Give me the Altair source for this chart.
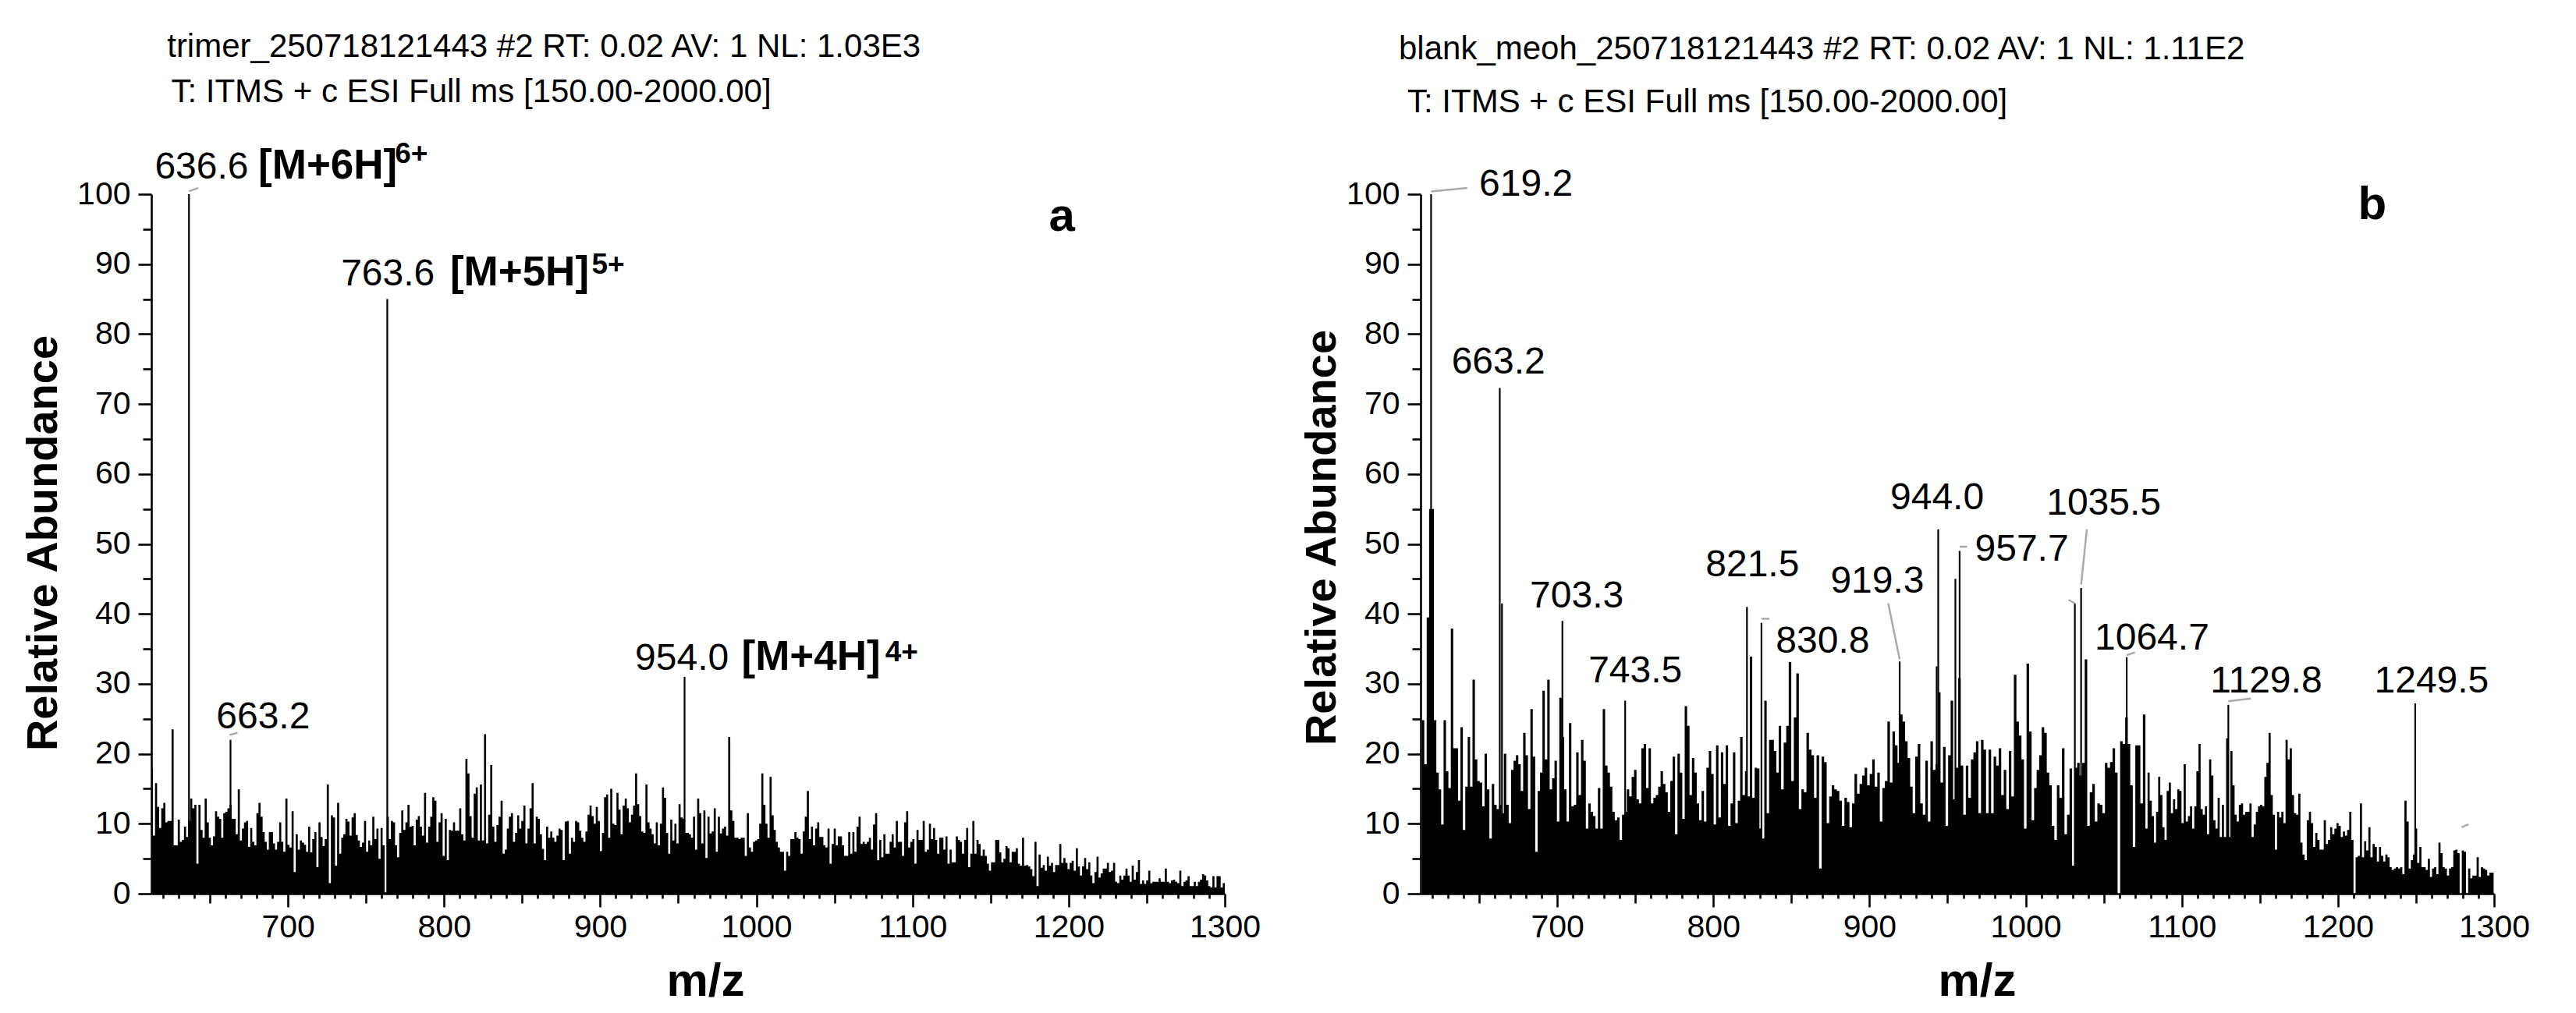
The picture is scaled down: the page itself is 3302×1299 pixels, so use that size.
import altair as alt
import pandas as pd

FONT = "Liberation Sans"

# ---------------- panel a : trimer ----------------
A_NOISE_START, A_NOISE_END = 612.2, 1300.0
A_NOISE = [
    17.8, 8.3, 15.8, 12.4, 9.4, 12.2, 13, 10.2, 10.4, 10.4, 23.5, 6.9, 6.9, 10.6, 7.4, 7.7, 9.6,
    8.1, 10.4, 13.6, 12.2, 12.7, 4.3, 12.7, 9.1, 8, 13.6, 10.2, 8, 6.9, 8.2, 11.8, 11, 10.7, 8, 11.5, 11.7,
    12.2, 12.7, 10.7, 10.7, 8.5, 14.9, 7.6, 9.3, 10.2, 10.4, 6.7, 9.4, 7.4, 6.9, 11.5, 13, 11, 8.8, 7.4,
    6.3, 8.8, 8.8, 7.2, 6.3, 7.4, 10.2, 7.4, 6, 13.6, 7, 6.6, 11.8, 3.1, 8.5, 6.3, 7.6, 7.3, 7, 6, 9.6,
    5.9, 7.8, 8.8, 3.8, 10.2, 8.1, 6.8, 7.8, 15.6, 1.5, 11.2, 10.9, 4, 13, 5.7, 8, 8.5, 10.7, 10.3, 8.3,
    10.9, 11.5, 8.4, 7.6, 6.7, 7.3, 10.4, 6, 7.6, 6.9, 11, 7.8, 9.3, 5, 9.4, 6.9,
    0.2, 11, 7.8, 10.4, 10.2, 6.9, 5.2, 8.7, 11.9, 9.1, 10.2, 12.7, 9.6, 9.7, 6.9, 10.6, 11.1, 9.6, 8.3,
    14.4, 7.3, 9.6, 11, 13.8, 13.3, 7.4, 10.2, 11.5, 5.4, 10.7, 4.8, 9.1, 9, 10.2, 9, 9, 12.2, 8.5, 7.6,
    19.3, 17.2, 11.1, 8, 14.3, 15.2, 7.6, 15.6, 7.6, 22.8, 7.2, 11.3, 18.4, 9.6, 7.4, 9.8, 11, 13.3, 5.7,
    6.3, 9.3, 11, 11.5, 7.4, 8.7, 11.2, 9.3, 10.4, 12.6, 7.2, 9.3, 12.2, 15.8, 7.2, 11, 10.7, 8.5, 6.4,
    4.8, 9.6, 8, 8.9, 8, 7.4, 8.3, 9.3, 9.1, 4.8, 10.3, 10.4, 5.7, 8, 7.4, 10.4, 10.2, 9, 8, 7.4, 8.9,
    11.3, 12.6, 11.1, 10, 12.4, 10.4, 6.1, 8.7, 13.8, 14.2, 8, 15, 10, 9.8, 14.4, 12, 8.5, 12.6, 13.6,
    12.2, 10.2, 11.3, 12.6, 17.2, 12.8, 11.1, 8.9, 8.7, 15.6, 10.2, 9.3, 8.5, 7.2, 10.2, 6.9, 10, 15.2,
    13.7, 8.7, 5.7, 10.6, 7.6, 10, 7.2, 12.8, 10.9, 10.7, 8.7, 8.7,
    8.5, 8, 11, 6.3, 13.6, 11.5, 7.2, 11.9, 5.1, 11, 8.6, 8.9, 12.2, 6, 11, 8.6, 9.3, 9.6, 8.3, 22.4,
    11.9, 10.4, 8, 8, 7.8, 8, 8, 5.4, 11.5, 6.6, 6, 7.4, 7.6, 7.8, 10, 17.2, 12.7, 10, 8, 16.7, 11.2,
    9.1, 7.4, 6.6, 6, 6, 3.3, 6, 5.4, 7.8, 7.8, 8.8, 8, 7.8, 5.7, 8.9, 11, 14.7, 7.8, 9.6, 6.9, 9.3,
    10.2, 8.1, 8.1, 6.9, 6.6, 9.3, 4.3, 7.1, 9.3, 6.9, 8.2, 8.2, 6.9, 5.4, 5.4, 8.8, 5.7, 8.8, 6, 9.6,
    11, 7.1, 7.4, 7.1, 7.4, 8, 6.3, 9.9, 11.5, 4.8, 7.7, 5.2, 8.5, 5.7, 5.7, 7.4, 8.5, 6.6, 10.4, 7.4,
    7.4, 5.4, 10.2, 11.8, 6.6, 7.4, 7.8, 4.3, 9.1, 7.7, 7.7, 10.4, 6, 6.3, 10, 7.8, 9.4, 7.7, 5.7, 8, 8,
    6.3, 8.2, 4.3, 6.3, 4.5, 4.5, 8.2, 7.7, 7.4, 5.7, 7.7, 9.4, 3.8, 5.7, 10.4, 5.7, 7.7, 7.1, 5.4, 6.3,
    5.4, 4.3, 3.3, 4.5, 4.5, 7.7, 7.7, 5.9, 4.5, 5, 6.8, 6.5, 4.5, 6, 6, 6.5, 4.3, 4, 8, 4, 4.1, 3.9,
    3.5, 2.5, 7.4, 1.1, 5.6, 3.7, 4.1, 3.3, 5.3, 4, 4.4, 3.1, 4.1, 4.1, 7.1, 4.4, 5.1, 4.4, 3.5, 4.4,
    4.7, 3.3, 6.5, 3.9, 2.6, 3.9, 5.1, 3.5, 4.5, 2.6, 1.5, 3.1, 5.3, 2.3, 2.9, 3.6, 3.6, 4.4, 3.1, 3.3,
    4.4, 1.7, 1.5, 2.6, 2, 2.6, 3.6, 2.6, 1.7, 4, 2, 3.1, 4.8, 1.4, 1.9, 1.4, 1.9, 3.3, 1.5, 1.7, 1.7,
    1.7, 2.2, 1.7, 1.7, 3.6, 1.7, 1.5, 1.9, 2, 1.7, 1.5, 3.3, 1.1, 1.7, 1.9, 2.5, 1.1, 1.1, 1.7, 1.1,
    1.7, 2, 2.8, 2.6, 1.9, 1.1, 0.9, 2.5, 0.9, 2.5, 2.5, 0.9, 1.5,
]
A_PEAK_MZ = [636.6, 663.2, 763.6, 954.0]
A_PEAK_H = [100, 22, 85, 31]

A_LABEL_TEXT = ["636.6", "763.6", "663.2", "954.0"]
A_LABEL_MZ = [614.7, 734.0, 654.1, 922.3]
A_LABEL_V = [102.2, 87.0, 23.6, 32.0]
A_ION_TEXT = ["[M+6H]", "[M+5H]", "[M+4H]"]
A_ION_MZ = [681.0, 803.8, 990.5]
A_ION_V = [102.2, 87.0, 32.0]
A_CHARGE_TEXT = ["6+", "5+", "4+"]
A_CHARGE_MZ = [768.5, 894.5, 1082.5]
A_CHARGE_V = [104.5, 88.6, 33.2]
A_LEAD_MZ = [636.6, 662.6]
A_LEAD_MZ2 = [642.5, 667.7]
A_LEAD_V = [100.4, 22.7]
A_LEAD_V2 = [100.9, 23.0]
A_HEADER = ["trimer_250718121443 #2 RT: 0.02 AV: 1 NL: 1.03E3",
            "T: ITMS + c ESI Full ms [150.00-2000.00]"]
A_HEADER_MZ = [622.6, 625.2]
A_HEADER_V = [119.6, 113.2]

# ---------------- panel b : blank MeOH ----------------
B1 = [
    24.8, 18.5, 39.5, 55, 55, 24.8, 17.3, 14.9, 9.9, 24.8, 17.5, 15.1, 37.9, 20.8, 20.8, 13.3, 23.8,
    9.1, 15.3, 22.4, 15.3, 30.6, 19.2, 16.1, 15.9, 12.5, 20, 14.9, 7.9, 15.7, 12.7, 12.1, 12.7, 11.5,
    20, 12.7, 10.1, 17.7, 19.0, 19.8, 18.5, 14.7, 23, 19.8, 12.1, 26.4, 19.6, 6, 14.7, 17.3, 29, 19.2,
    30.6, 14.9, 16.5, 19, 10.3, 28, 22.4, 14.9, 10.3, 24.4, 12.5, 12.7, 20.2, 14.1, 22, 19, 9.3, 12.9,
    11.7, 11.1, 9.3, 15.1, 9.3, 26.4, 18.3, 17.3, 15.3, 11.7, 10.5, 10.9, 7.7, 11.3, 11.7, 14.9, 13.9,
    16.7, 17.7, 13.5, 12.9, 20.8, 21.4, 15.1, 20.8, 12.9, 13.7, 14.1, 15.3, 17.5, 15.7, 14.5, 11.7,
    16.1, 19.6, 8.5, 20, 17.3, 10.7, 26.8, 24, 14.1, 19.4, 17.3, 12.9, 10.5, 14.7, 10.3, 18, 20.4,
    17.1, 9.9, 21.2, 10.9, 20.2, 15.7, 21.2, 9.7, 12.9, 20.2, 10.1, 13.3, 22.4, 14.1, 17.5, 13.9,
    33.9, 13.7, 18, 17.9, 9.3, 7.9, 27.6, 11.5, 22, 22, 20.4, 17.3, 24,
]
B2 = [
    14.9, 21.6, 24, 33.1, 16.1, 25.2, 31.5, 12.1, 14.9, 14.5, 23, 20.6, 19.8, 13.7, 19.8, 3.6, 19.6,
    18.8, 10.1, 13.9, 15.5, 14.9, 14.7, 13.3, 9.7, 13.7, 13.1, 9.5, 12.9, 17.1, 14.3, 15.7, 16.9, 18,
    15.5, 17.1, 19.2, 15.3, 17.3, 10.3, 15.1, 16.1, 24.6, 15.9, 23.2, 21.2, 18.7, 25.6, 24.6, 21.8,
    19.4, 15.3, 11.5, 19.6, 21.4, 12.9, 11.3, 19, 10.3, 21.8, 17.7, 18.5, 28.8, 15.9, 21, 9.7, 19.8,
    27.6, 13.5, 18.0, 30.8, 18.3, 11.3, 18.3, 13.7, 19.2, 20.2, 21.8, 11.5, 22, 20.6, 11.5, 20.6, 11.5,
    19.6, 18.3, 20.8, 14.1, 17.7, 12.1, 20.4, 13.9, 31.3, 24.6, 22.6, 19.2, 9.3, 32.9, 23.2, 10.5,
    15.1, 17.7, 19.8, 23.8, 23, 17.3, 15.5, 9.7, 7.7, 15.5, 13.7, 20.8, 8.5, 11.3, 17.9, 4, 18.0,
    18.7, 16.9, 18.7, 33.5, 9.7, 14.5, 15.7, 10.3, 12.9, 12.7, 11.5, 18.7, 18, 18.8, 20.8, 17.3, 0,
    21.8, 21.4, 25.2, 21.4, 15.5, 6.7, 21.2, 21.2, 12.9, 25.6,
]
B3 = [
    9.3, 17.3, 13.3, 11.1, 7.3, 11.7, 16.7, 14.1, 9.5, 7.7, 14.7, 15.9, 11.5, 13.5, 12.1, 14.9, 14.7,
    10.1, 18.5, 10.3, 11.1, 12.5, 9.3, 12.5, 17.5, 21.4, 12.1, 11.3, 12.5, 8.5, 19.2, 16.9, 10.5, 9.3,
    13.7, 8.1, 12.7, 8.1, 22.2, 8.1, 20.4, 15.5, 11.3, 10.3, 12.7, 12.9, 11.3, 11.7, 11.7, 12.9, 8.1,
    9.9, 11.7, 12.5, 12.7, 12.5, 16.7, 18.7, 23, 14.1, 11.3, 6.3, 11.7, 10.9, 11.7, 10.1, 22, 19.2,
    20.8, 14.1, 11.5, 11.3, 14.3, 7.3, 5.6, 4.8, 10.5, 11.7, 10.1, 6.7, 8.7, 7.7, 6.3, 6.3, 10.5, 7.1,
    7.7, 9.5, 8.5, 9.3, 10.1, 9.7, 8.1, 8.9, 8.3, 9.1, 11.7, 7.7, 0, 5.2, 5.4, 12.9, 5.2, 7.5, 6.2,
    9.5, 5.2, 7.1, 6.7, 4.6, 6.7, 5.4, 4.6, 5.6, 5.2, 3.8, 3.4, 3.6, 3.8, 3.6, 3.8, 2.8, 13.3, 10.3,
    3.6, 4.8, 5.6, 9.3, 4.4, 6.7, 3.8, 3.8, 3.4, 5, 2.4, 3.6, 3.8, 2.8, 7.3, 5.8, 3.8, 3.6, 2.6, 3.6,
    3.8, 6.2, 6.3, 5.8, 0, 6.2, 6, 0, 3.6, 2.2, 2.6, 2.6, 5.2, 2.4, 3.8, 3.6, 3.4, 2.6, 3, 3,
]
B_SEGMENTS = [(613.3, 843.4, B1), (843.4, 1076.7, B2), (1076.7, 1299.7, B3)]

B_PEAK_MZ = [619.2, 663.2, 664.6, 703.3, 743.5, 821.5, 830.8, 919.3, 943.0, 944.0, 955.0, 957.7,
             1031.5, 1035.5, 1064.7, 1129.8, 1249.5]
B_PEAK_H = [100, 72.3, 41.5, 39, 27.6, 41, 38.7, 33.2, 32.5, 52.1, 45, 49, 41.5, 43.7, 33.8, 27,
            27.2]

B_LABEL_TEXT = ["619.2", "663.2", "703.3", "743.5", "821.5", "830.8", "919.3", "944.0", "957.7",
                "1035.5", "1064.7", "1129.8", "1249.5"]
B_LABEL_MZ = [650.0, 632.3, 682.5, 720.0, 795.0, 840.0, 875.0, 913.3, 967.5, 1013.3, 1044.2,
              1118.3, 1223.3]
B_LABEL_V = [99.8, 74.4, 40.9, 30.2, 45.4, 34.5, 43.0, 55.0, 47.6, 54.2, 34.9, 28.8, 28.8]
B_LEAD_MZ = [619.2, 830.8, 912.0, 957.7, 1039.2, 1027.5, 1064.7, 1129.8, 1279.2]
B_LEAD_MZ2 = [642.3, 835.8, 919.3, 962.5, 1035.5, 1031.5, 1070.0, 1144.2, 1283.7]
B_LEAD_V = [100.4, 39.3, 41.5, 49.6, 52.1, 42.0, 34.1, 27.5, 9.5]
B_LEAD_V2 = [100.9, 39.3, 33.5, 49.6, 44.2, 41.5, 34.5, 27.9, 9.9]
B_HEADER = ["blank_meoh_250718121443 #2 RT: 0.02 AV: 1 NL: 1.11E2",
            "T: ITMS + c ESI Full ms [150.00-2000.00]"]
B_HEADER_MZ = [598.5, 604.0]
B_HEADER_V = [119.3, 111.7]

X_TICKS = list(range(620, 1301, 10))
Y_TICKS = list(range(0, 101, 5))
X_DOMAIN = [612.5, 1300]
Y_DOMAIN = [0, 100]

W, H = 1376, 897


def noise_table(segments):
    rows = []
    for s, e, vals in segments:
        step = (e - s) / len(vals)
        for i, v in enumerate(vals):
            rows.append({"mz": s + i * step, "h": v})
    rows.append({"mz": segments[-1][1], "h": segments[-1][2][-1]})
    return pd.DataFrame(rows)


def xenc(field, title_x):
    return alt.X(
        field, type="quantitative",
        scale=alt.Scale(domain=X_DOMAIN, nice=False, zero=False),
        axis=alt.Axis(
            values=X_TICKS, format="d",
            labelExpr="datum.value % 100 === 0 ? datum.label : ''",
            labelOverlap=False, labelFlush=False,
            tickSize={"condition": [{"test": "datum.value % 100 === 0", "value": 17},
                                    {"test": "datum.value % 50 === 0", "value": 12}],
                      "value": 6},
            labelPadding=6, title="m/z", titleX=title_x, titleY=130,
            titleBaseline="alphabetic", titleAlign="center",
            titleFontSize=60, titleFontWeight="bold",
        ),
    )


def yenc(field, title_x, title_y):
    return alt.Y(
        field, type="quantitative",
        scale=alt.Scale(domain=Y_DOMAIN, nice=False, zero=False),
        axis=alt.Axis(
            values=Y_TICKS, format="d",
            labelExpr="datum.value % 10 === 0 ? datum.label : ''",
            labelOverlap=False, labelFlush=False,
            tickSize={"condition": {"test": "datum.value % 10 === 0", "value": 17}, "value": 11},
            labelPadding=10, title="Relative Abundance", titleX=title_x, titleY=title_y,
            titleAngle=270, titleBaseline="alphabetic", titleAlign="center",
            titleFontSize=56, titleFontWeight="bold",
        ),
    )


def panel(noise, peak_mz, peak_h, lab_t, lab_mz, lab_v, lead, header, letter, tx, ty, mx,
          ion=None, charge=None):
    X = lambda f: xenc(f, mx)
    Y = lambda f: yenc(f, tx, ty)
    layers = []
    layers.append(
        alt.Chart(noise).mark_area(interpolate="step-after", color="black", clip=True)
        .encode(x=X("mz"), y=Y("h"))
    )
    pk = pd.DataFrame({"mz": peak_mz, "h": peak_h})
    layers.append(
        alt.Chart(pk).mark_rule(color="black", strokeWidth=2.2)
        .encode(x=X("mz"), y=Y("h"), y2=alt.datum(0))
    )
    ld = pd.DataFrame({"mz": lead[0], "mz2": lead[1], "v": lead[2], "v2": lead[3]})
    layers.append(
        alt.Chart(ld).mark_rule(color="#aaaaaa", strokeWidth=2.5)
        .encode(x=X("mz"), x2="mz2", y=Y("v"), y2="v2")
    )
    lb = pd.DataFrame({"mz": lab_mz, "v": lab_v, "t": lab_t})
    layers.append(
        alt.Chart(lb).mark_text(align="left", baseline="alphabetic", font=FONT, fontSize=48,
                                color="black")
        .encode(x=X("mz"), y=Y("v"), text="t:N")
    )
    if ion is not None:
        io = pd.DataFrame({"mz": ion[1], "v": ion[2], "t": ion[0]})
        layers.append(
            alt.Chart(io).mark_text(align="left", baseline="alphabetic", font=FONT, fontSize=53,
                                    fontWeight="bold", color="black")
            .encode(x=X("mz"), y=Y("v"), text="t:N")
        )
        ch = pd.DataFrame({"mz": charge[1], "v": charge[2], "t": charge[0]})
        layers.append(
            alt.Chart(ch).mark_text(align="left", baseline="alphabetic", font=FONT, fontSize=37,
                                    fontWeight="bold", color="black")
            .encode(x=X("mz"), y=Y("v"), text="t:N")
        )
    hd = pd.DataFrame({"mz": header[1], "v": header[2], "t": header[0]})
    layers.append(
        alt.Chart(hd).mark_text(align="left", baseline="alphabetic", font=FONT, fontSize=42,
                                color="black")
        .encode(x=X("mz"), y=Y("v"), text="t:N")
    )
    lt = pd.DataFrame({"mz": [letter[1]], "v": [letter[2]], "t": [letter[0]]})
    layers.append(
        alt.Chart(lt).mark_text(align="center", baseline="alphabetic", font=FONT, fontSize=60,
                                fontWeight="bold", color="black")
        .encode(x=X("mz"), y=Y("v"), text="t:N")
    )
    return alt.layer(*layers).properties(width=W, height=H)


pa = panel(
    noise_table([(A_NOISE_START, A_NOISE_END, A_NOISE)]),
    A_PEAK_MZ, A_PEAK_H, A_LABEL_TEXT, A_LABEL_MZ, A_LABEL_V,
    (A_LEAD_MZ, A_LEAD_MZ2, A_LEAD_V, A_LEAD_V2),
    (A_HEADER, A_HEADER_MZ, A_HEADER_V),
    ("a", 1195.7, 94.8), -122, 447, 710,
    ion=(A_ION_TEXT, A_ION_MZ, A_ION_V), charge=(A_CHARGE_TEXT, A_CHARGE_MZ, A_CHARGE_V),
)
pb = panel(
    noise_table(B_SEGMENTS),
    B_PEAK_MZ, B_PEAK_H, B_LABEL_TEXT, B_LABEL_MZ, B_LABEL_V,
    (B_LEAD_MZ, B_LEAD_MZ2, B_LEAD_V, B_LEAD_V2),
    (B_HEADER, B_HEADER_MZ, B_HEADER_V),
    ("b", 1222.0, 96.4), -110, 440, 713,
)

chart = (
    alt.hconcat(pa, pb, spacing=251, bounds="flush")
    .properties(padding={"left": 27, "top": 39, "right": 10, "bottom": 10}, background="white")
    .configure_view(stroke=None)
    .configure_axis(
        domainColor="black", domainWidth=2.6, tickColor="black", tickWidth=2.6,
        labelFont=FONT, labelFontSize=41, labelColor="black",
        titleFont=FONT, titleColor="black", grid=False,
    )
)

chart.save("out.html", embed_options={"renderer": "svg", "actions": False})
